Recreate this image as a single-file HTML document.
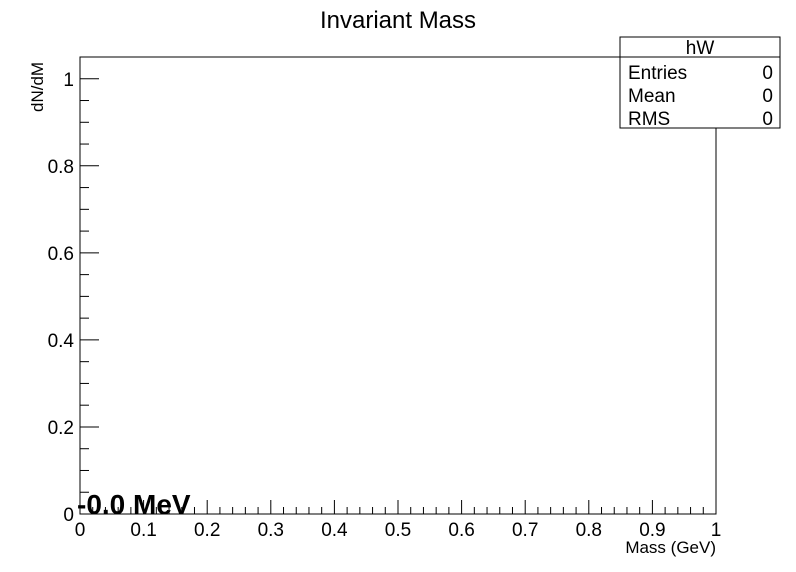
<!DOCTYPE html>
<html><head><meta charset="utf-8"><style>
body{margin:0;background:#fff}
svg{display:block;font-family:"Liberation Sans",sans-serif}
</style></head><body>
<svg id="c" width="796" height="572">
<text x="398" y="28" font-size="24" text-anchor="middle">Invariant Mass</text>
<rect x="80" y="57" width="636" height="457" fill="none" stroke="#000" stroke-width="1"/>
<g id="ticks"></g>
<text x="716" y="553" font-size="17" text-anchor="end">Mass (GeV)</text>
<text transform="translate(43,112) rotate(-90)" font-size="17" text-anchor="start">dN/dM</text>
<text x="77" y="514" font-size="28" font-weight="bold">-0.0 MeV</text>
<g>
<rect x="620" y="37" width="160" height="91" fill="#fff" stroke="#000"/>
<line x1="620" y1="57" x2="780" y2="57" stroke="#000"/>
<text x="700" y="54" font-size="19" text-anchor="middle">hW</text>
<text x="628" y="79" font-size="19">Entries</text><text x="773" y="79" font-size="19" text-anchor="end">0</text>
<text x="628" y="102" font-size="19">Mean</text><text x="773" y="102" font-size="19" text-anchor="end">0</text>
<text x="628" y="125" font-size="19">RMS</text><text x="773" y="125" font-size="19" text-anchor="end">0</text>
</g>
</svg>
<script>
const xTicks=[0,0.1,0.2,0.3,0.4,0.5,0.6,0.7,0.8,0.9,1];
const xTickLabels=["0","0.1","0.2","0.3","0.4","0.5","0.6","0.7","0.8","0.9","1"];
const yTicks=[0,0.2,0.4,0.6,0.8,1];
const yTickLabels=["0","0.2","0.4","0.6","0.8","1"];
const xMin=0,xMax=1,yMin=0,yMax=1.05;
function X(v){return 80+(v-xMin)/(xMax-xMin)*636;}
function Y(v){return 514-(v-yMin)/(yMax-yMin)*457;}
const g=document.getElementById('ticks');
const NS='http://www.w3.org/2000/svg';
function ln(x1,y1,x2,y2){const l=document.createElementNS(NS,'line');l.setAttribute('x1',x1);l.setAttribute('y1',y1);l.setAttribute('x2',x2);l.setAttribute('y2',y2);l.setAttribute('stroke','#000');g.appendChild(l);return l;}
function tx(x,y,s,a){const t=document.createElementNS(NS,'text');t.setAttribute('x',x);t.setAttribute('y',y);t.setAttribute('font-size','19');t.setAttribute('text-anchor',a);t.textContent=s;g.appendChild(t);return t;}
for(let i=0;i<=50;i++){const v=i*0.02;const l=ln(X(v),514,X(v),514-(i%5===0?14:7));

}
for(let i=0;i<=21;i++){const v=i*0.05;if(v>yMax)break;const l=ln(80,Y(v),80+(i%4===0?19:9),Y(v));

}
xTicks.forEach((v,i)=>{const t=tx(X(v),536,xTickLabels[i],'middle');

});
yTicks.forEach((v,i)=>{const t=tx(74,Y(v)+7,yTickLabels[i],'end');

});
</script>
</body></html>
